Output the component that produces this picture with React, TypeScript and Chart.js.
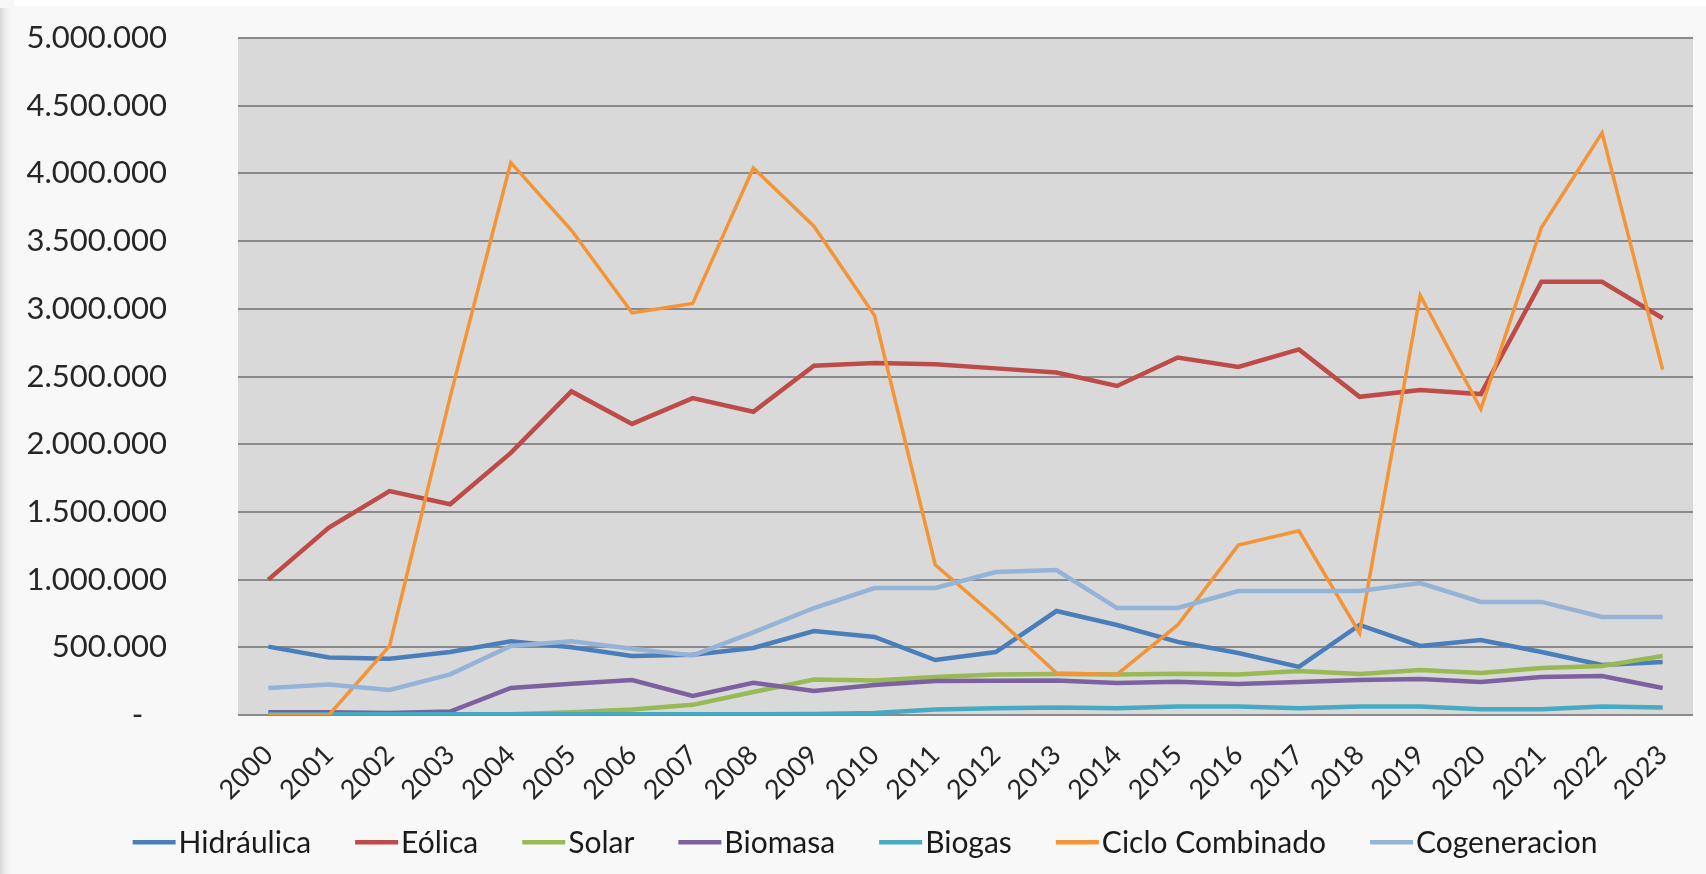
import React, { useEffect, useRef } from "react";
import { Chart, registerables } from "chart.js";

Chart.register(...registerables);

const years = ["2000","2001","2002","2003","2004","2005","2006","2007","2008","2009","2010","2011","2012","2013","2014","2015","2016","2017","2018","2019","2020","2021","2022","2023"];

const hidraulica = [505000, 425000, 415000, 465000, 545000, 500000, 435000, 445000, 495000, 620000, 576000, 406000, 465000, 768000, 665000, 540000, 458000, 355000, 665000, 510000, 554000, 465000, 369000, 391000];
const eolica = [1000000, 1385000, 1654000, 1556000, 1936000, 2390000, 2150000, 2340000, 2240000, 2580000, 2600000, 2590000, 2560000, 2530000, 2430000, 2640000, 2570000, 2700000, 2350000, 2400000, 2370000, 3200000, 3200000, 2930000];
const solar = [3000, 3000, 3000, 3000, 5000, 20000, 40000, 75000, 170000, 262000, 255000, 281000, 300000, 303000, 300000, 305000, 300000, 325000, 303000, 332000, 310000, 347000, 362000, 436000];
const biomasa = [20000, 20000, 15000, 25000, 200000, 230000, 258000, 140000, 238000, 178000, 222000, 251000, 253000, 255000, 236000, 245000, 229000, 244000, 258000, 266000, 244000, 281000, 288000, 199000];
const biogas = [5000, 5000, 5000, 5000, 5000, 5000, 5000, 5000, 5000, 8000, 15000, 40000, 50000, 56000, 50000, 62000, 62000, 50000, 62000, 62000, 42000, 42000, 62000, 56000];
const cicloCombinado = [0, 0, 510000, 2350000, 4080000, 3580000, 2970000, 3040000, 4040000, 3610000, 2950000, 1110000, 724000, 310000, 300000, 665000, 1255000, 1360000, 606000, 3100000, 2260000, 3600000, 4300000, 2550000];
const cogeneracion = [200000, 225000, 185000, 300000, 510000, 545000, 490000, 440000, 610000, 790000, 938000, 938000, 1056000, 1070000, 790000, 790000, 916000, 916000, 916000, 975000, 835000, 835000, 724000, 723000];

const seriesNames = ["Hidráulica", "Eólica", "Solar", "Biomasa", "Biogas", "Ciclo Combinado", "Cogeneracion"];
const seriesColors = ["#4a7ebb", "#be4b48", "#98b954", "#7d60a0", "#46aac5", "#f39537", "#95b3d7"];
const seriesWidths = [4.5, 4.5, 4.5, 4.5, 4.5, 3.5, 4.5];

const FONT = "Lato, 'Open Sans', sans-serif";

function formatTick(v: number): string {
  if (v === 0) return "-   ";
  return Math.round(v).toString().replace(/\B(?=(\d{3})+(?!\d))/g, ".");
}

const bgPlugin = {
  id: "bgPlugin",
  beforeDraw(chart: any) {
    const { ctx, width, height, chartArea } = chart;
    ctx.save();
    ctx.fillStyle = "#f8f8f8";
    ctx.fillRect(0, 0, width, height);
    const g = ctx.createLinearGradient(0, 0, 14, 0);
    g.addColorStop(0, "#d6d6d6");
    g.addColorStop(1, "rgba(248,248,248,0)");
    ctx.fillStyle = g;
    ctx.fillRect(0, 8, 14, height - 8);
    ctx.fillStyle = "#ffffff";
    ctx.fillRect(14, 0, width - 14, 6);
    ctx.fillStyle = "#d9d9d9";
    ctx.fillRect(chartArea.left, chartArea.top, chartArea.right - chartArea.left, chartArea.bottom - chartArea.top);
    ctx.restore();
  },
};

const legendPlugin = {
  id: "customLegend",
  afterDraw(chart: any) {
    const { ctx, width } = chart;
    const lineLen = 43;
    const gap = 3;
    const spacing = 44;
    const y = 842;
    ctx.save();
    ctx.font = `30px ${FONT}`;
    const items = chart.data.datasets.map((ds: any) => ({
      label: ds.label,
      color: ds.borderColor,
      w: ctx.measureText(ds.label).width,
    }));
    const total = items.reduce((s: number, it: any) => s + lineLen + gap + it.w, 0) + spacing * (items.length - 1);
    let x = width / 2 + 12 - total / 2;
    ctx.textBaseline = "middle";
    ctx.textAlign = "left";
    for (const it of items) {
      ctx.fillStyle = it.color;
      ctx.fillRect(x, y - 2, lineLen, 4.5);
      ctx.fillStyle = "#1a1a1a";
      ctx.fillText(it.label, x + lineLen + gap, y + 1);
      x += lineLen + gap + it.w + spacing;
    }
    ctx.restore();
  },
};

export default function App() {
  const ref = useRef<HTMLCanvasElement | null>(null);
  useEffect(() => {
    if (!ref.current) return;
    const data = [hidraulica, eolica, solar, biomasa, biogas, cicloCombinado, cogeneracion];
    const chart = new Chart(ref.current, {
      type: "line",
      data: {
        labels: years,
        datasets: data.map((d, i) => ({
          label: seriesNames[i],
          data: d,
          borderColor: seriesColors[i],
          backgroundColor: seriesColors[i],
          borderWidth: seriesWidths[i],
          pointRadius: 0,
          tension: 0,
          fill: false,
          order: 10 - i,
        })),
      },
      options: {
        responsive: false,
        animation: false,
        layout: { padding: { left: 0, right: 13, top: 38, bottom: 0 } },
        plugins: {
          legend: { display: false },
          tooltip: { enabled: false },
        },
        scales: {
          x: {
            offset: true,
            grid: { display: false, drawTicks: false },
            border: { display: false },
            ticks: {
              font: { family: FONT, size: 27 },
              color: "#262626",
              maxRotation: 45,
              minRotation: 45,
              padding: 24,
              autoSkip: false,
            },
            afterFit: (s: any) => {
              s.height = 159;
              s.paddingTop = 0; s.paddingBottom = 0; s.paddingLeft = 0; s.paddingRight = 0;
            },
          },
          y: {
            min: 0,
            max: 5000000,
            grid: { color: "#8a8a8a", lineWidth: 2, drawTicks: false },
            border: { display: false },
            ticks: {
              stepSize: 500000,
              font: { family: FONT, size: 31 },
              color: "#262626",
              padding: 71,
              callback: (v: any) => formatTick(Number(v)),
            },
            afterFit: (s: any) => {
              s.width = 238;
              s.paddingTop = 0; s.paddingBottom = 0; s.paddingLeft = 0; s.paddingRight = 0;
            },
          },
        },
      },
      plugins: [bgPlugin, legendPlugin],
    });
    return () => chart.destroy();
  }, []);
  return (
    <div style={{ position: "absolute", left: 0, top: 0, width: 1706, height: 874 }}>
      <canvas ref={ref} width={1706} height={874} style={{ display: "block" }} />
    </div>
  );
}
